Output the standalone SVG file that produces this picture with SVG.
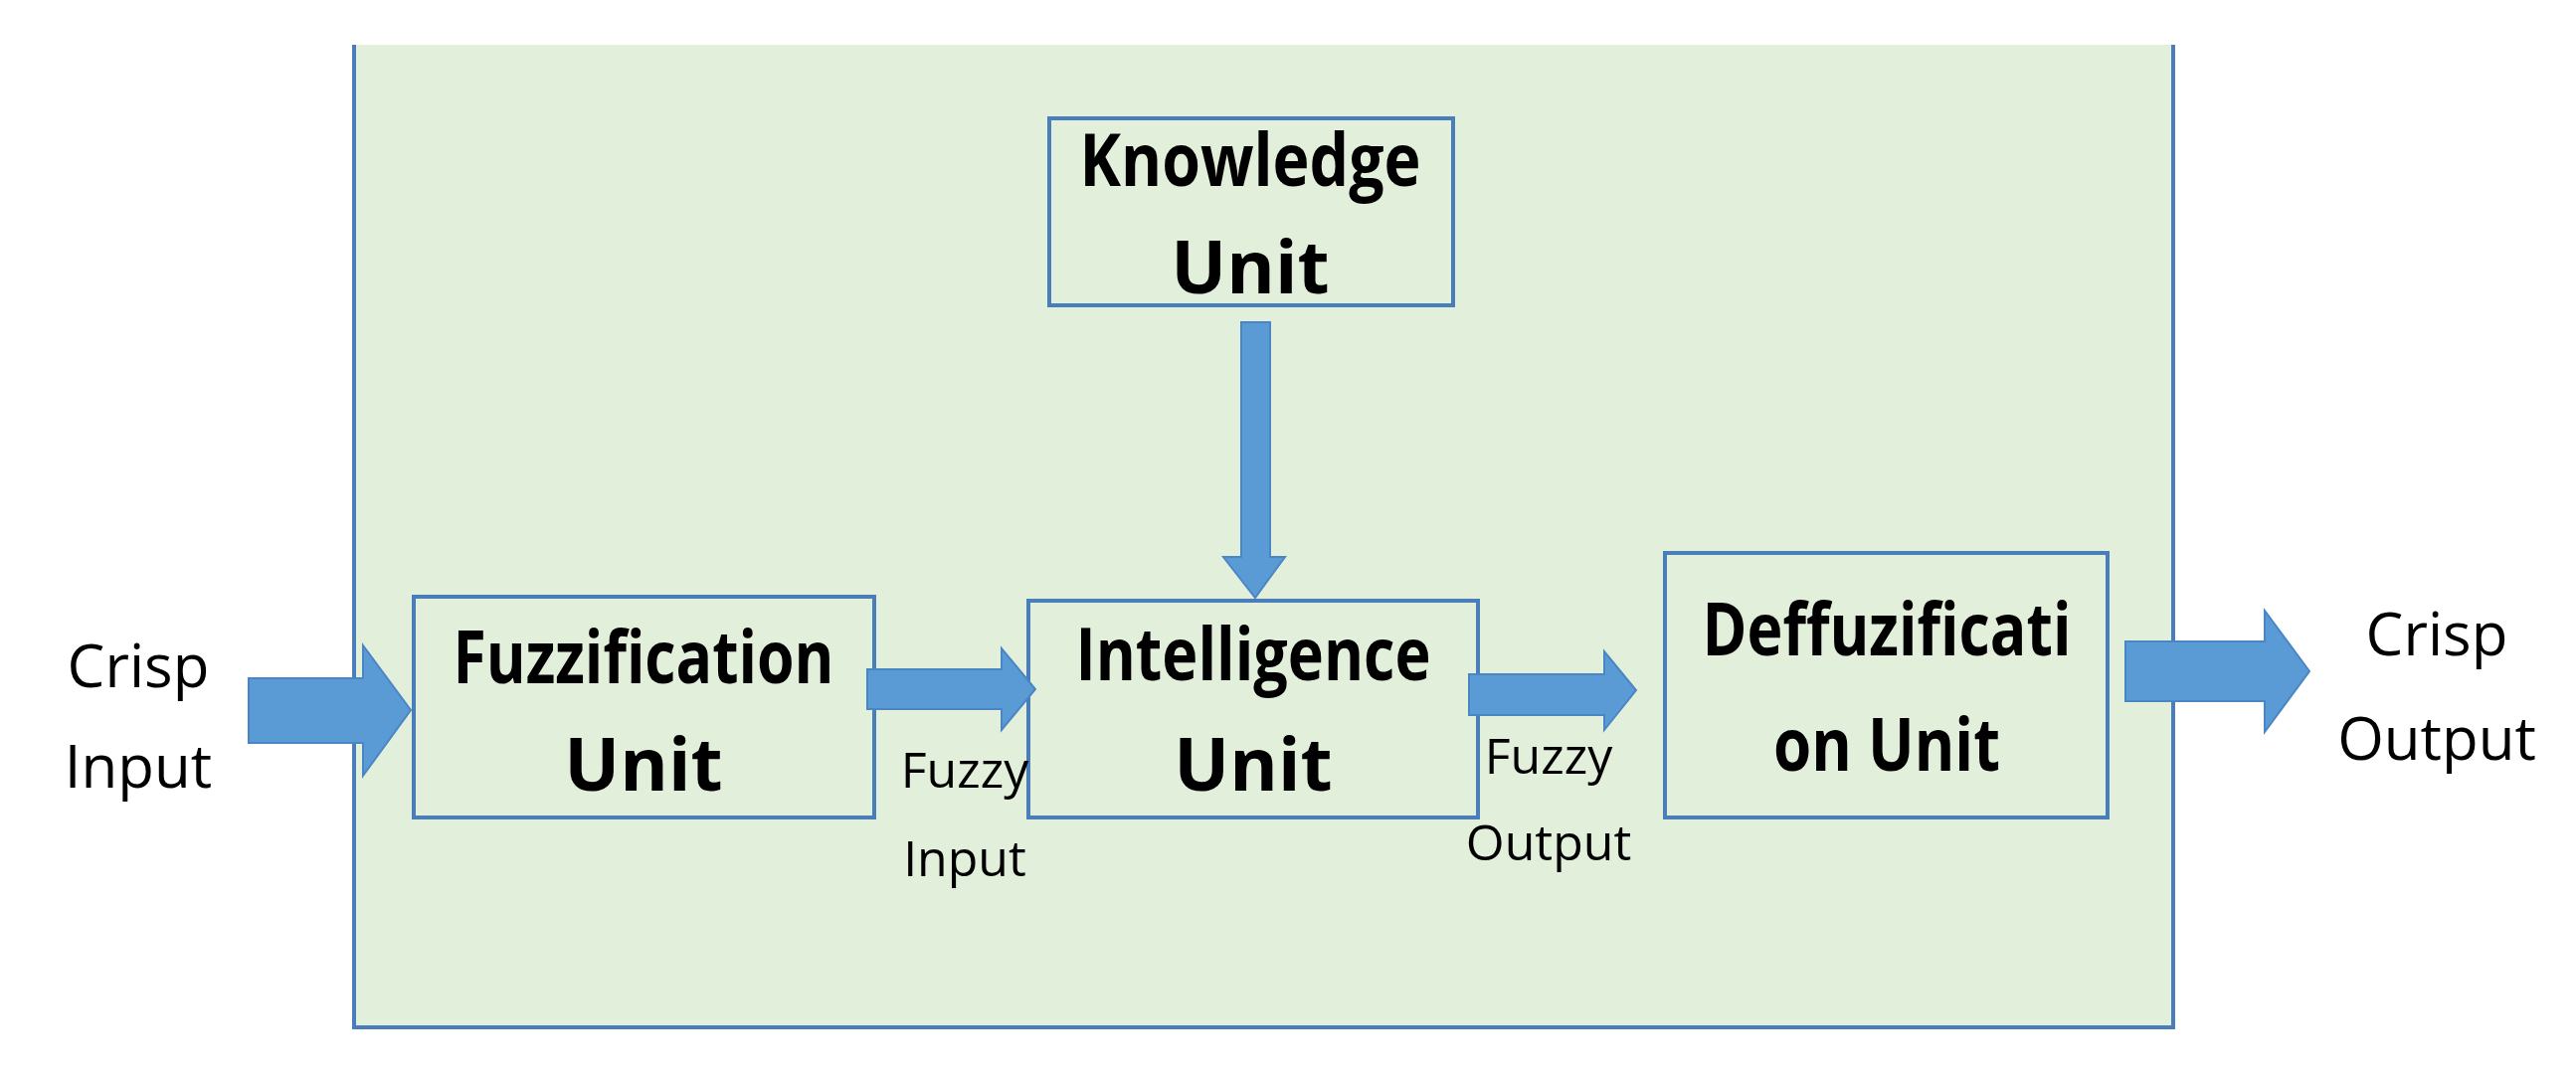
<svg xmlns="http://www.w3.org/2000/svg" width="2590" height="1094" viewBox="0 0 2590 1094">
<style>
.box{fill:#e2efda;stroke:#4a7ebb;stroke-width:4}
.arr{fill:#5b9bd5;stroke:#4a86c5;stroke-width:2}
.b{font-family:"Open Sans","Liberation Sans",sans-serif;font-weight:bold;font-size:74px;fill:#000;text-anchor:middle}
.r{font-family:"Open Sans","Liberation Sans",sans-serif;font-size:60px;fill:#000;text-anchor:middle}
.s{font-family:"Open Sans","Liberation Sans",sans-serif;font-size:50px;fill:#000;text-anchor:middle}
</style>
<rect width="2590" height="1094" fill="#fff"/>
<g id="container"><path d="M356 45 V1033 H2185 V45" fill="#e2efda" stroke="#4a7ebb" stroke-width="4"/></g>
<g id="knowledge"><rect class="box" x="1055" y="119" width="406" height="188"/>
<text class="b" x="1257" y="187" textLength="343" lengthAdjust="spacingAndGlyphs">Knowledge</text>
<text class="b" x="1257" y="295">Unit</text></g>
<g id="fuzzification"><rect class="box" x="416" y="600" width="463" height="222"/>
<text class="b" x="647" y="687" textLength="383" lengthAdjust="spacingAndGlyphs">Fuzzification</text>
<text class="b" x="647" y="795">Unit</text></g>
<g id="intelligence"><rect class="box" x="1034" y="604" width="452" height="218"/>
<text class="b" x="1260" y="684" textLength="357" lengthAdjust="spacingAndGlyphs">Intelligence</text>
<text class="b" x="1260" y="795">Unit</text></g>
<g id="deffuzification"><rect class="box" x="1674" y="556" width="445" height="266"/>
<text class="b" x="1897" y="659" textLength="371" lengthAdjust="spacingAndGlyphs">Deffuzificati</text>
<text class="b" x="1897" y="775" textLength="228" lengthAdjust="spacingAndGlyphs">on Unit</text></g>
<g id="connectors">
<polygon class="arr" points="250,682 365,682 365,649 413,714 365,780 365,747 250,747"/>
<polygon class="arr" points="872,673 1007,673 1007,652 1041,693 1007,734 1007,713 872,713"/>
<polygon class="arr" points="1248,324 1277,324 1277,560 1292,560 1262,601 1230,560 1248,560"/>
<polygon class="arr" points="1477,678 1613,678 1613,655 1645,694 1613,734 1613,719 1477,719"/>
<polygon class="arr" points="2137,645 2277,645 2277,614 2322,675 2277,736 2277,705 2137,705"/>
</g>
<g id="labels">
<text class="r" x="139" y="691">Crisp</text>
<text class="r" x="139" y="792">Input</text>
<text class="s" x="970" y="792">Fuzzy</text>
<text class="s" x="970" y="881">Input</text>
<text class="s" x="1557" y="778">Fuzzy</text>
<text class="s" x="1557" y="865">Output</text>
<text class="r" x="2450" y="659">Crisp</text>
<text class="r" x="2450" y="764">Output</text>
</g>
</svg>
